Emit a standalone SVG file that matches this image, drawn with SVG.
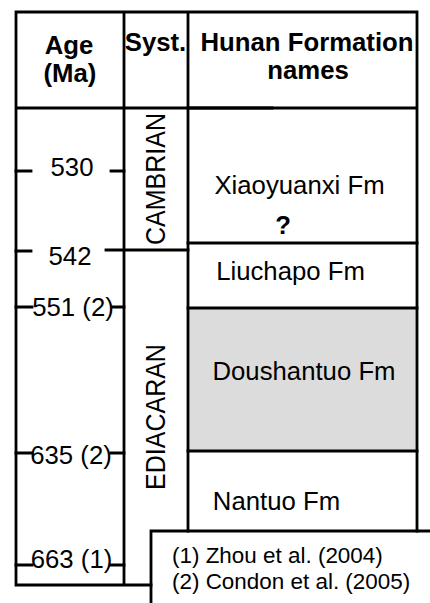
<svg xmlns="http://www.w3.org/2000/svg" width="430" height="603" viewBox="0 0 430 603">
<style>
  .ln{stroke:#000;stroke-width:2.8;fill:none;stroke-linecap:square}
  .t{font-family:"Liberation Sans",Arial,sans-serif;font-size:25px;fill:#000;text-anchor:middle}
  .b{font-weight:bold}
  .lg{font-family:"Liberation Sans",Arial,sans-serif;font-size:22px;fill:#000}
</style>
<rect width="430" height="603" fill="#fff"/>
<g id="doushantuo-fill"><rect x="188" y="308" width="229" height="143" fill="#dcdcdc"/></g>
<g id="frame">
  <path class="ln" d="M16,12 H417 V531 M16,12 V585 H151 M124,12 V585 M188,12 V531 M16,108 H417"/>
  <path class="ln" d="M188,108 H272" stroke-width="3.6"/>
  <path class="ln" d="M188,243 H417 M188,308 H417 M188,451 H417"/>
  <path class="ln" d="M106,250 H188"/>
</g>
<g id="ticks">
  <path class="ln" d="M16,171 H31 M111,171 H124 M16,251 H31 M16,307 H32 M113,307 H124 M16,453 H32 M111,453 H124 M16,565 H32 M111,565 H124"/>
</g>
<g id="header">
  <text class="t b" transform="translate(69,54) scale(1.03,1)">Age</text>
  <text class="t b" transform="translate(70,82) scale(1.03,1)">(Ma)</text>
  <text class="t b" transform="translate(155.5,51) scale(1.03,1)">Syst.</text>
  <text class="t b" transform="translate(307,51) scale(1.03,1)">Hunan Formation</text>
  <text class="t b" transform="translate(308,79) scale(1.03,1)">names</text>
</g>
<g id="ages">
  <text class="t" transform="translate(72,176) scale(1.03,1)">530</text>
  <text class="t" transform="translate(70,265) scale(1.03,1)">542</text>
  <text class="t" transform="translate(73,316) scale(1.03,1)">551 (2)</text>
  <text class="t" transform="translate(71,464) scale(1.03,1)">635 (2)</text>
  <text class="t" transform="translate(71.5,568) scale(1.03,1)">663 (1)</text>
</g>
<g id="systems">
  <text class="t" transform="translate(165,179) scale(1.07,1) rotate(-90)">CAMBRIAN</text>
  <text class="t" transform="translate(165,417) scale(1.07,1) rotate(-90)">EDIACARAN</text>
</g>
<g id="xiaoyuanxi">
  <text class="t" transform="translate(299.5,194) scale(1.03,1)">Xiaoyuanxi Fm</text>
  <text class="t b" transform="translate(283,234) scale(1.03,1)">?</text>
</g>
<g id="liuchapo"><text class="t" transform="translate(290.5,280) scale(1.03,1)">Liuchapo Fm</text></g>
<g id="doushantuo"><text class="t" transform="translate(304,380) scale(1.03,1)">Doushantuo Fm</text></g>
<g id="nantuo"><text class="t" transform="translate(276.5,510) scale(1.03,1)">Nantuo Fm</text></g>
<g id="legend">
  <path class="ln" d="M151,603 V531 H430"/>
  <text class="lg" transform="translate(172,563) scale(1.02,1)">(1) Zhou et al. (2004)</text>
  <text class="lg" transform="translate(172,589) scale(1.02,1)">(2) Condon et al. (2005)</text>
</g>
</svg>
